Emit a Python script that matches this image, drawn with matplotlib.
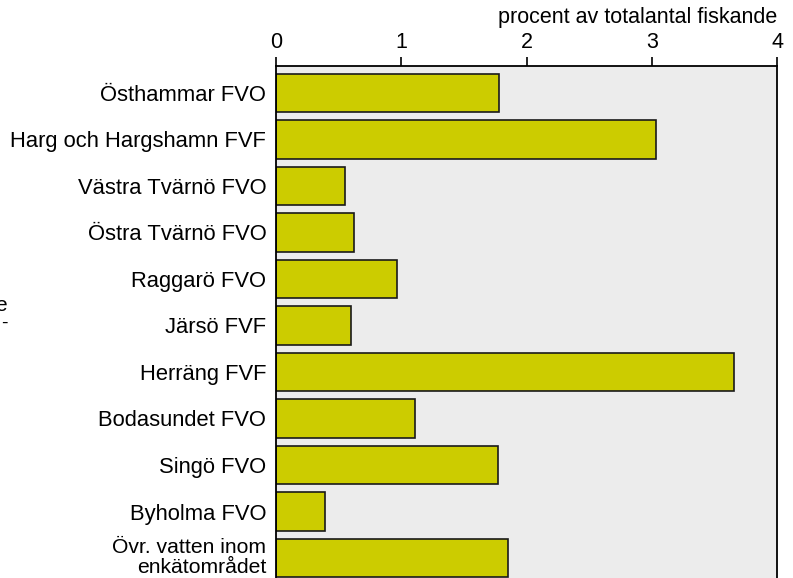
import matplotlib
matplotlib.use("Agg")
import matplotlib.pyplot as plt

plt.rcParams['font.family'] = ['Liberation Sans', 'DejaVu Sans']

# omraden och andel av fiskande (procent)
omraden = ["Östhammar FVO", "Harg och Hargshamn FVF", "Västra Tvärnö FVO",
           "Östra Tvärnö FVO", "Raggarö FVO", "Järsö FVF", "Herräng FVF",
           "Bodasundet FVO", "Singö FVO", "Byholma FVO",
           "Övr. vatten inom\nenkätområdet"]
procent = [1.78, 3.03, 0.55, 0.62, 0.97, 0.60, 3.66, 1.11, 1.77, 0.39, 1.85]
xticks = [0, 1, 2, 3, 4]

fig = plt.figure(figsize=(7.93, 5.78), dpi=100)
ax = fig.add_axes([276/793, 0, 501/793, 512/578])
ax.set_facecolor('#ececec')

pos = list(range(len(omraden)))
ax.barh(pos, procent, height=0.83, color='#cccc00', edgecolor='#1a1a1a', linewidth=1.2)

ax.set_xlim(0, 4)
ax.set_ylim(10.43, -0.58)
ax.set_xticks(xticks)
ax.set_xticklabels([str(t) for t in xticks], fontsize=15.5)
ax.xaxis.tick_top()
ax.xaxis.set_label_position('top')
ax.set_xlabel("procent av totalantal fiskande", loc='right', fontsize=15.5, labelpad=6)
ax.tick_params(axis='x', direction='out', length=6.5, width=1.2, pad=3)

# sista etiketten har två rader och sitter lite högre
ax.set_yticks(pos)
ax.set_yticklabels(omraden[:-1] + [""], fontsize=15.8)
ax.tick_params(axis='y', length=0, pad=7)
ax.annotate(omraden[-1], xy=(0, pos[-1]), xycoords=('axes fraction', 'data'),
            xytext=(-7, 0.5), textcoords='offset points', ha='right', va='center',
            fontsize=15.2, linespacing=1.1)

for s in ['top', 'left', 'right']:
    ax.spines[s].set_linewidth(1.3)
ax.spines['bottom'].set_visible(False)

# avklippt text i vänsterkanten
fig.text(-0.006, 0.472, "e", fontsize=15, ha='left', va='center')
fig.text(0.001, 0.44, "-", fontsize=14, ha='left', va='center')

fig.savefig("out.png", dpi=100)
